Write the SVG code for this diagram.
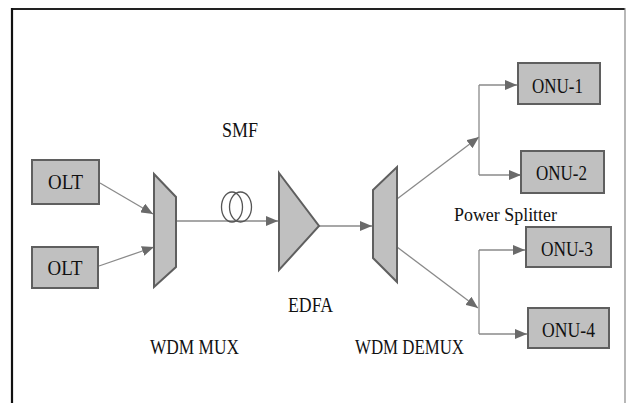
<svg xmlns="http://www.w3.org/2000/svg" width="628" height="403" viewBox="0 0 628 403">
<defs>
<style>
.box{fill:#c0c0c0;stroke:#5f5f5f;stroke-width:2}
.dev{fill:#c0c0c0;stroke:#5f5f5f;stroke-width:2;stroke-linejoin:miter}
.t{font-family:"Liberation Serif",serif;font-size:21px;fill:#111}
.con{stroke:#8a8a8a;stroke-width:1.3;fill:none}
.coil{fill:none;stroke:#555;stroke-width:1.3}
</style>
<marker id="ah" markerUnits="userSpaceOnUse" markerWidth="12" markerHeight="10" viewBox="0 0 12 10" refX="12" refY="5" orient="auto">
<path d="M0,0 L12,5 L0,10 Z" fill="#6a6a6a"/>
</marker>
</defs>
<rect x="0" y="0" width="628" height="403" fill="#fff"/>
<g id="frame">
<line x1="12" y1="9" x2="625" y2="9" stroke="#222" stroke-width="2"/>
<line x1="12" y1="8" x2="12" y2="403" stroke="#111" stroke-width="2.2"/>
<line x1="625" y1="8" x2="625" y2="403" stroke="#888" stroke-width="1.2"/>
</g>
<g id="connectors">
<path class="con" d="M100,183 L153,214" marker-end="url(#ah)"/>
<path class="con" d="M99,266 L154,247" marker-end="url(#ah)"/>
<path class="con" d="M176,221 L278,221" marker-end="url(#ah)"/>
<path class="con" d="M319,226 L372,226" marker-end="url(#ah)"/>
<path class="con" d="M397,199 L479,137" marker-end="url(#ah)"/>
<path class="con" d="M479,85 L479,175"/>
<path class="con" d="M479,85 L517,85" marker-end="url(#ah)"/>
<path class="con" d="M479,175 L521,175" marker-end="url(#ah)"/>
<path class="con" d="M397,247 L478,308" marker-end="url(#ah)"/>
<path class="con" d="M479,250 L479,334"/>
<path class="con" d="M479,250 L525,250" marker-end="url(#ah)"/>
<path class="con" d="M479,334 L527,334" marker-end="url(#ah)"/>
</g>
<g id="olt1"><rect class="box" x="32" y="160" width="67" height="44"/><text class="t" x="65.5" y="189" text-anchor="middle" textLength="35" lengthAdjust="spacingAndGlyphs">OLT</text></g>
<g id="olt2"><rect class="box" x="32" y="247" width="66" height="41"/><text class="t" x="65" y="275" text-anchor="middle" textLength="35" lengthAdjust="spacingAndGlyphs">OLT</text></g>
<g id="wdm-mux"><polygon class="dev" points="154,174 176,197 176,267 154,287"/><text class="t" x="194.5" y="354" text-anchor="middle" textLength="89" lengthAdjust="spacingAndGlyphs">WDM MUX</text></g>
<g id="smf"><ellipse class="coil" cx="232" cy="207" rx="10.5" ry="15"/><ellipse class="coil" cx="240.5" cy="207" rx="11" ry="15"/><text class="t" x="240" y="137" text-anchor="middle" textLength="36" lengthAdjust="spacingAndGlyphs">SMF</text></g>
<g id="edfa"><polygon class="dev" points="279,173 319,226 279,270"/><text class="t" x="310.5" y="312" text-anchor="middle" textLength="45" lengthAdjust="spacingAndGlyphs">EDFA</text></g>
<g id="wdm-demux"><polygon class="dev" points="373,190 397,167 397,282 373,258"/><text class="t" x="409.5" y="354" text-anchor="middle" textLength="109" lengthAdjust="spacingAndGlyphs">WDM DEMUX</text></g>
<g id="power-splitter"><text class="t" x="505.5" y="221" text-anchor="middle" style="font-size:18px" textLength="103" lengthAdjust="spacingAndGlyphs">Power Splitter</text></g>
<g id="onu1"><rect class="box" x="518" y="63" width="82" height="41"/><text class="t" x="557.5" y="93" text-anchor="middle" textLength="51" lengthAdjust="spacingAndGlyphs">ONU-1</text></g>
<g id="onu2"><rect class="box" x="521" y="151" width="83" height="42"/><text class="t" x="561.5" y="180" text-anchor="middle" textLength="51" lengthAdjust="spacingAndGlyphs">ONU-2</text></g>
<g id="onu3"><rect class="box" x="526" y="227" width="85" height="40"/><text class="t" x="567" y="256" text-anchor="middle" textLength="52" lengthAdjust="spacingAndGlyphs">ONU-3</text></g>
<g id="onu4"><rect class="box" x="528" y="308" width="81" height="40"/><text class="t" x="568.5" y="337" text-anchor="middle" textLength="53" lengthAdjust="spacingAndGlyphs">ONU-4</text></g>
</svg>
